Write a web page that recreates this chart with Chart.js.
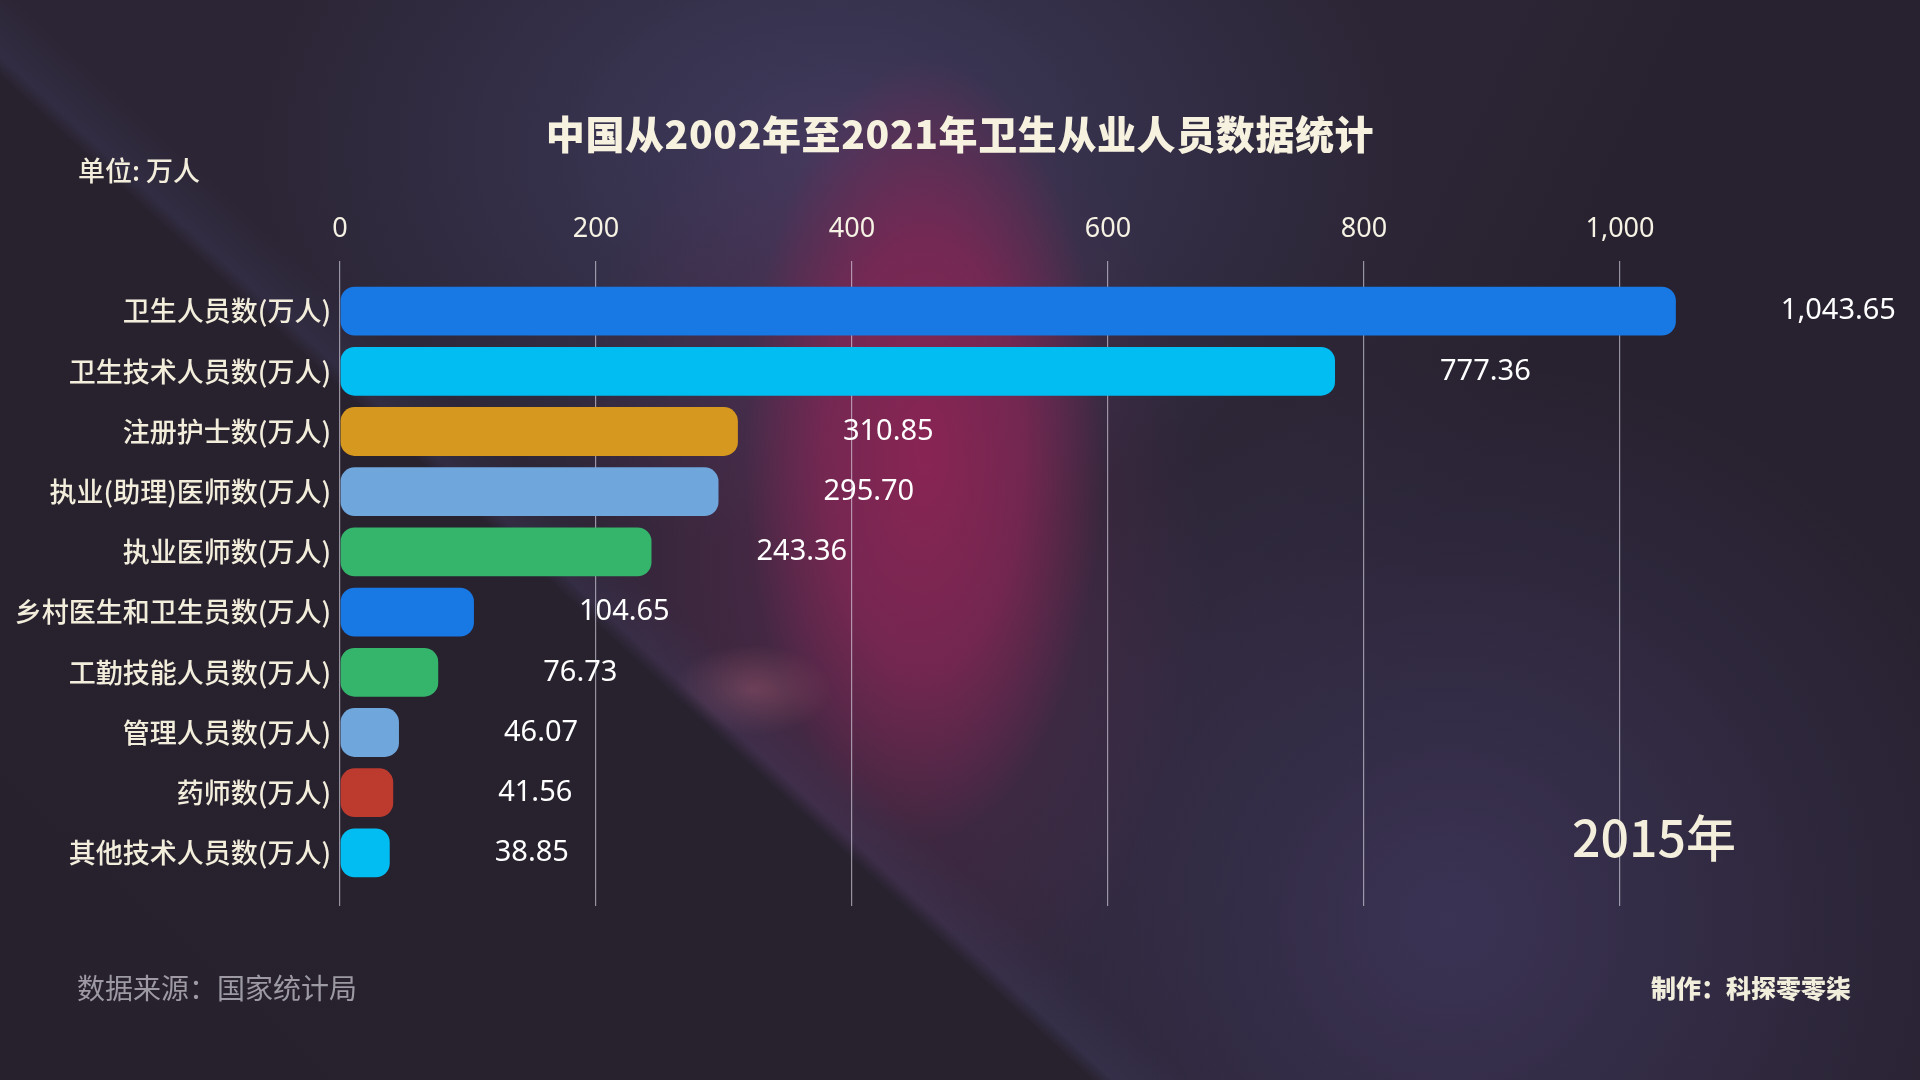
<!DOCTYPE html>
<html lang="zh">
<head>
<meta charset="utf-8">
<title>中国从2002年至2021年卫生从业人员数据统计</title>
<script src="https://cdn.jsdelivr.net/npm/chart.js@4.4.1/dist/chart.umd.min.js"></script>
<style>
  html, body {
    margin: 0;
    padding: 0;
    width: 1920px;
    height: 1080px;
    overflow: hidden;
  }
  body {
    position: relative;
    background-color: #2b2535;
    background-image:
      linear-gradient(42.6deg, #27212e 0%, #28222f 35.3%, rgba(66, 62, 98, 0.3) 36%, rgba(66, 62, 98, 0) 38.5%),
      radial-gradient(ellipse 80px 45px at 752px 690px, rgba(180, 100, 122, 0.4), rgba(180, 100, 122, 0) 100%),
      radial-gradient(ellipse 180px 390px at 925px 450px, rgba(140, 36, 84, 0.95) 0%, rgba(130, 38, 84, 0.75) 55%, rgba(120, 40, 84, 0) 100%),
      radial-gradient(ellipse 330px 520px at 880px 560px, rgba(110, 45, 90, 0.6) 0%, rgba(110, 45, 90, 0) 100%),
      radial-gradient(ellipse 580px 400px at 830px 150px, rgba(66, 62, 100, 0.85) 0%, rgba(66, 62, 100, 0) 100%),
      radial-gradient(ellipse 560px 560px at 1450px 920px, rgba(62, 54, 90, 0.85) 0%, rgba(62, 54, 90, 0) 100%),
      linear-gradient(115deg, rgba(0, 0, 0, 0) 62%, rgba(38, 32, 46, 0.7) 70%);
    font-family: "Noto Sans CJK SC", "Noto Sans", sans-serif;
  }
  canvas {
    position: absolute;
    left: 0;
    top: 0;
  }
  .txt {
    position: absolute;
    white-space: nowrap;
    transform: translateY(-50%);
    line-height: 1;
  }
  #title {
    left: 0;
    width: 1920px;
    top: 132px;
    text-align: center;
    font-size: 39px;
    letter-spacing: 0.6px;
    font-weight: 900;
    color: #f7f2df;
  }
  #unit {
    left: 78px;
    top: 169px;
    font-size: 27px;
    font-weight: 500;
    color: #f3eedc;
  }
  #year {
    left: 1572px;
    top: 835px;
    font-size: 50px;
    font-weight: 500;
    color: #f4efdc;
  }
  #source {
    left: 77px;
    top: 987px;
    font-size: 28px;
    font-weight: 400;
    color: #9d9aa4;
  }
  #author {
    right: 69px;
    top: 987px;
    font-size: 25px;
    font-weight: 900;
    color: #f2eedc;
  }
</style>
</head>
<body>
<canvas id="barCanvas" width="1920" height="1080"></canvas>
<div class="txt" id="title">中国从2002年至2021年卫生从业人员数据统计</div>
<div class="txt" id="unit">单位: 万人</div>
<div class="txt" id="year">2015年</div>
<div class="txt" id="source">数据来源：国家统计局</div>
<div class="txt" id="author">制作：科探零零柒</div>

<script>
// data (2015)
const categories = [
  '卫生人员数(万人)',
  '卫生技术人员数(万人)',
  '注册护士数(万人)',
  '执业(助理)医师数(万人)',
  '执业医师数(万人)',
  '乡村医生和卫生员数(万人)',
  '工勤技能人员数(万人)',
  '管理人员数(万人)',
  '药师数(万人)',
  '其他技术人员数(万人)'
];
const values = [1043.65, 777.36, 310.85, 295.70, 243.36, 104.65, 76.73, 46.07, 41.56, 38.85];
const xTickValues = [0, 200, 400, 600, 800, 1000];

// colours of the bars, same order as categories
const barColors = [
  '#1878e4', '#02bdf2', '#d6981f', '#6fa6dc', '#35b46b',
  '#1878e4', '#35b46b', '#6fa6dc', '#bd3a2f', '#02bdf2'
];

const numFmt = (v, digits) => v.toLocaleString('en-US', {
  minimumFractionDigits: digits,
  maximumFractionDigits: digits
});

// only keep the ticks we want (no tick at max)
const setTicks = (scale) => {
  scale.ticks = xTickValues.map(v => ({ value: v }));
};

// value labels to the right of each bar
const valueLabels = {
  id: 'valueLabels',
  afterDatasetsDraw(chart) {
    const ctx = chart.ctx;
    const meta = chart.getDatasetMeta(0);
    ctx.save();
    ctx.font = '400 29px "Noto Sans", "DejaVu Sans", sans-serif';
    ctx.fillStyle = '#ffffff';
    ctx.textAlign = 'left';
    ctx.textBaseline = 'middle';
    for (let i = 0; i < meta.data.length; i++) {
      let bar = meta.data[i];
      ctx.fillText(numFmt(values[i], 2), bar.x + 105, bar.y);
    }
    ctx.restore();
  }
};

const gridColor = 'rgba(225, 222, 235, 0.6)';

new Chart(document.getElementById('barCanvas'), {
  type: 'bar',
  data: {
    labels: categories,
    datasets: [{
      data: values,
      backgroundColor: barColors,
      borderRadius: 14,
      borderSkipped: false,
      barPercentage: 0.81,
      categoryPercentage: 1
    }]
  },
  options: {
    indexAxis: 'y',
    responsive: false,
    animation: false,
    events: [],
    layout: {
      padding: { left: 0, right: 172, top: 211, bottom: 174 }
    },
    plugins: {
      legend: { display: false },
      tooltip: { enabled: false },
      title: { display: false }
    },
    scales: {
      x: {
        position: 'top',
        min: 0,
        max: 1100,
        afterBuildTicks: setTicks,
        afterFit: (scale) => { scale.height = 70; },
        border: { display: false },
        grid: {
          color: gridColor,
          lineWidth: 1.2,
          drawTicks: true,
          tickLength: 20,
          tickColor: gridColor
        },
        ticks: {
          padding: 15,
          color: '#f6f2e4',
          font: { family: '"Noto Sans", "DejaVu Sans", sans-serif', size: 27, weight: '400' },
          callback: (v) => v.toLocaleString('en-US')
        }
      },
      // bottom axis only to extend the grid lines a bit below the bars
      x2: {
        position: 'bottom',
        min: 0,
        max: 1100,
        afterBuildTicks: setTicks,
        afterFit: (scale) => { scale.height = 23; },
        border: { display: false },
        grid: {
          drawOnChartArea: false,
          drawTicks: true,
          tickLength: 23,
          tickColor: gridColor,
          lineWidth: 1.2
        },
        ticks: { display: false }
      },
      y: {
        afterFit: (scale) => { scale.width = 340; },
        border: { display: false },
        grid: { display: false, drawTicks: false },
        ticks: {
          padding: 9,
          color: '#f3eedc',
          font: { family: '"Noto Sans CJK SC", sans-serif', size: 27, weight: '500' }
        }
      }
    }
  },
  plugins: [valueLabels]
});
</script>
</body>
</html>
